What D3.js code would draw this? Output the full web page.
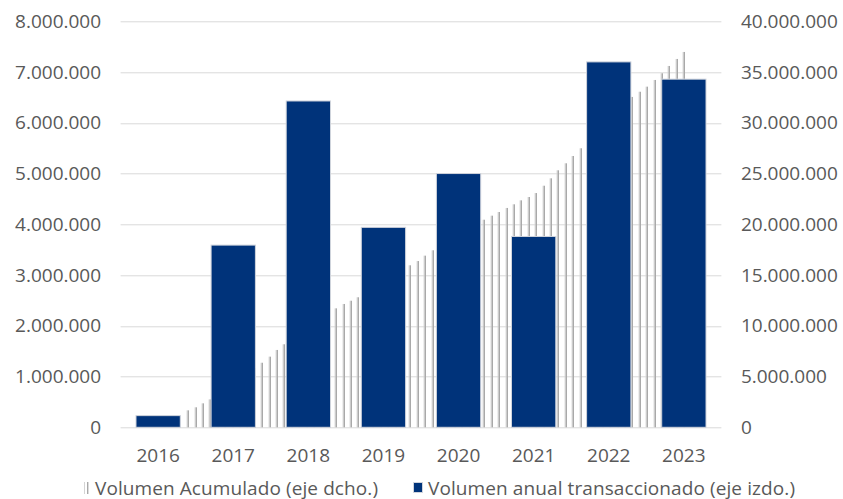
<!DOCTYPE html>
<html>
<head>
<meta charset="utf-8">
<script src="https://cdn.jsdelivr.net/npm/d3@7"></script>
<style>
  body { margin: 0; background: #fff; }
  text { font-family: "Open Sans", sans-serif; fill: #595959; }
</style>
</head>
<body>
<svg id="chart" width="843" height="499"></svg>
<script>
// Annual traded volume (left axis) and cumulative volume (right axis)
const years = ["2016", "2017", "2018", "2019", "2020", "2021", "2022", "2023"];
const annualVolume = [230000, 3590000, 6430000, 3940000, 5000000, 3760000, 7200000, 6860000];

// Cumulative volume per period, in millions
const cumulativeVolume = [
  1.67, 1.97, 2.36,
  2.75, 3.2, 3.8, 4.35, 4.9, 5.4, 5.85,
  6.36, 6.96, 7.62, 8.18,
  8.8, 9.4, 9.95, 10.5, 10.95, 11.35,
  11.72, 12.15, 12.47, 12.81,
  13.2, 13.6, 14.1, 14.6, 15.1, 15.55,
  15.96, 16.38, 16.91, 17.44,
  17.9, 18.4, 18.85, 19.3, 19.7, 20.1,
  20.45, 20.85, 21.21, 21.61, 21.97, 22.36, 22.69, 23.08, 23.8, 24.53, 25.32, 26.01, 26.73, 27.49,
  28.3, 29.1, 29.9, 30.7, 31.4, 32.0, 32.55,
  33.06, 33.56, 34.22, 34.88, 35.6, 36.29, 36.98
];

const leftTicks = [0, 1000000, 2000000, 3000000, 4000000, 5000000, 6000000, 7000000, 8000000];
const rightTicks = [0, 5000000, 10000000, 15000000, 20000000, 25000000, 30000000, 35000000, 40000000];
const legendLabels = ["Volumen Acumulado (eje dcho.)", "Volumen anual transaccionado (eje izdo.)"];

const BAR_COLOR = "#00337a";
const GRID_COLOR = "#d9d9d9";

const svg = d3.select("#chart");
const W = 843, H = 499;
const margin = { top: 21.3, right: 121.6, bottom: 71.7, left: 120.6 };
const plotW = W - margin.left - margin.right;
const plotH = H - margin.top - margin.bottom;

const fmt = d3.formatLocale({ decimal: ",", thousands: ".", grouping: [3], currency: ["", " €"] }).format(",d");

// Scales
const x = d3.scaleBand().domain(years).range([0, plotW]).paddingInner(0.41).paddingOuter(0.205);
const yLeft = d3.scaleLinear().domain([0, 8000000]).range([plotH, 0]);
const yRight = d3.scaleLinear().domain([0, 40000000]).range([plotH, 0]);
const step = x.step();
const centre = y => x(y) + x.bandwidth() / 2;

// Cumulative series runs from early in the first year to the centre of the last one
const cumStart = 0.395;
const xCum = d3.scaleLinear()
  .domain([0, cumulativeVolume.length - 1])
  .range([centre(years[0]) + cumStart * step, centre(years[years.length - 1])]);

const g = svg.append("g").attr("transform", `translate(${margin.left},${margin.top})`);

// Gridlines
g.append("g").selectAll("line").data(leftTicks).join("line")
  .attr("x1", 0).attr("x2", plotW)
  .attr("y1", d => Math.round(yLeft(d)) + 0.5).attr("y2", d => Math.round(yLeft(d)) + 0.5)
  .attr("stroke", GRID_COLOR).attr("stroke-width", 1);

// Cumulative volume as thin shaded drop lines
const cum = g.append("g").selectAll("g").data(cumulativeVolume).join("g");
cum.append("rect")
  .attr("x", (d, i) => Math.round(xCum(i)) - 1).attr("width", 1)
  .attr("y", d => yRight(d * 1e6)).attr("height", d => plotH - yRight(d * 1e6))
  .attr("fill", "#d4d4d4");
cum.append("rect")
  .attr("x", (d, i) => Math.round(xCum(i))).attr("width", 1.4)
  .attr("y", d => yRight(d * 1e6)).attr("height", d => plotH - yRight(d * 1e6))
  .attr("fill", "#a9a9a9");

// Annual volume bars
g.append("g").selectAll("rect").data(years).join("rect")
  .attr("x", d => x(d)).attr("width", x.bandwidth())
  .attr("y", (d, i) => yLeft(annualVolume[i]))
  .attr("height", (d, i) => plotH - yLeft(annualVolume[i]))
  .attr("fill", BAR_COLOR)
  .attr("stroke", "#d0d4dc").attr("stroke-width", 1);

// Axes (labels only)
const axL = g.append("g")
  .call(d3.axisLeft(yLeft).tickValues(leftTicks).tickFormat(fmt).tickSize(0).tickPadding(19.5));
const axR = g.append("g").attr("transform", `translate(${plotW},0)`)
  .call(d3.axisRight(yRight).tickValues(rightTicks).tickFormat(fmt).tickSize(0).tickPadding(19.5));
const axB = g.append("g").attr("transform", `translate(0,${plotH})`)
  .call(d3.axisBottom(x).tickSize(0).tickPadding(21));
[axL, axR, axB].forEach(a => {
  a.select(".domain").remove();
  a.selectAll("text").attr("font-family", "Open Sans, sans-serif").attr("font-size", 19).attr("fill", "#595959");
});

// Legend
const leg = svg.append("g").attr("font-size", 19);
leg.append("rect").attr("x", 84).attr("y", 482).attr("width", 1).attr("height", 12).attr("fill", "#d4d4d4");
leg.append("rect").attr("x", 87).attr("y", 482).attr("width", 1.4).attr("height", 12).attr("fill", "#a9a9a9");
leg.append("text").attr("x", 95).attr("y", 494.5).attr("textLength", 283).text(legendLabels[0]);
leg.append("rect").attr("x", 413.5).attr("y", 482.5).attr("width", 9).attr("height", 10)
  .attr("fill", BAR_COLOR).attr("stroke", "#d0d4dc").attr("stroke-width", 1);
leg.append("text").attr("x", 428).attr("y", 494.5).attr("textLength", 367).text(legendLabels[1]);
</script>
</body>
</html>
